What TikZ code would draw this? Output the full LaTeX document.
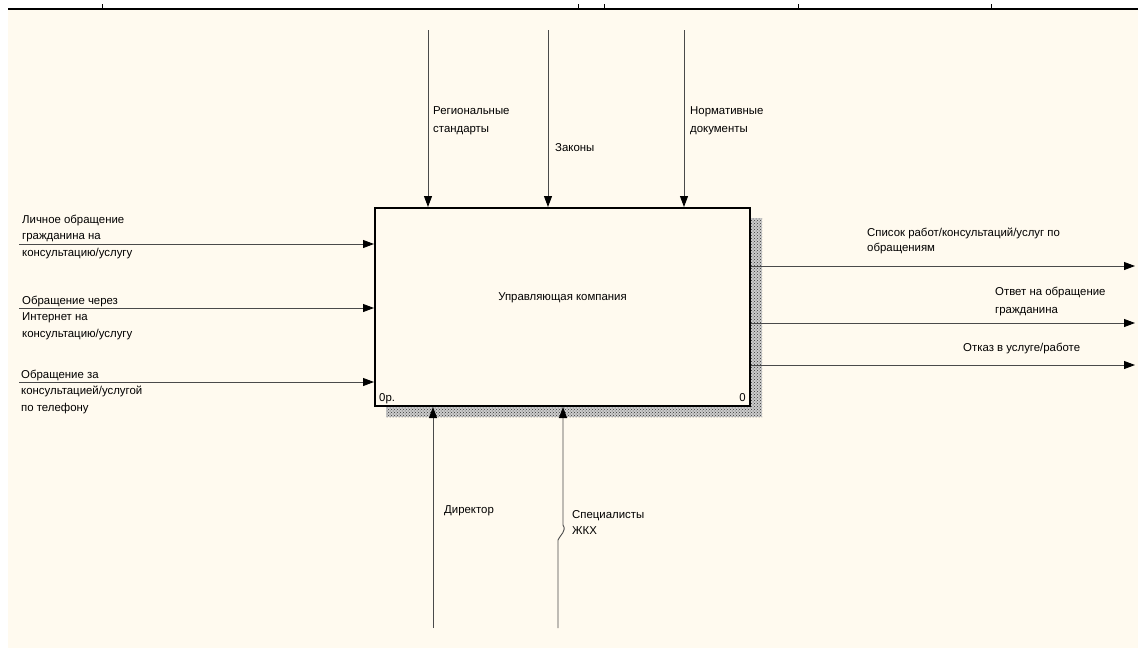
\documentclass[tikz,border=0pt]{standalone}
\usepackage{fontspec}
\setmainfont{Liberation Sans}
\usepackage{xcolor}
\definecolor{paper}{HTML}{FFFAEF}
\definecolor{wire}{HTML}{4A4A4A}
\usetikzlibrary{arrows.meta, patterns, calc}

\begin{document}
\begin{tikzpicture}[x=1pt, y=-1pt,
  >={Triangle[length=11pt, width=8pt, color=black]},
  flow/.style={->, draw=wire, line width=0.9pt},
  lbl/.style={font=\fontsize{11.4}{16.5}\selectfont, align=left, inner sep=0pt, anchor=base west}]

  \useasboundingbox (0,0) rectangle (1138,648);
  \fill[white] (0,0) rectangle (1138,648);
  \fill[paper] (8,9) rectangle (1138,648);
  \draw[line width=1.5pt] (8,9) -- (1138,9);
  \foreach \tx in {102,578,604,798,991}
    \draw[line width=0.7pt] (\tx,9) -- (\tx,4);

  % shadow and main box
  \fill[black!20] (386,218) rectangle (762,417);
  \fill[pattern=crosshatch dots, pattern color=black!80] (386,218) rectangle (762,417);
  \node[draw, line width=2pt, fill=paper, minimum width=375pt, minimum height=198pt,
        inner sep=0pt] (uk) at (562.5,307) {};
  \node[font=\fontsize{11.4}{13}\selectfont] (ukname) at ([yshift=9pt]uk.center)
        {Управляющая компания};
  \node[lbl] (ukref) at ([xshift=5pt, yshift=6pt]uk.south west) {0р.};
  \node[lbl, anchor=base east] (uknum) at ([xshift=-5pt, yshift=6pt]uk.south east) {0};

  % inputs
  \coordinate (in1) at (19,244);
  \coordinate (in2) at (19,308);
  \coordinate (in3) at (19,382);
  \draw[flow] (in1) -- (in1 -| uk.west);
  \draw[flow] (in2) -- (in2 -| uk.west);
  \draw[flow] (in3) -- (in3 -| uk.west);
  \node[lbl] (in1txt) at (22,256) {Личное обращение\\гражданина на\\консультацию/услугу};
  \node[lbl] (in2txt) at (22,337) {Обращение через\\Интернет на\\консультацию/услугу};
  \node[lbl] (in3txt) at (21,411) {Обращение за\\консультацией/услугой\\по телефону};

  % controls
  \coordinate (ctl1) at (428,30);
  \coordinate (ctl2) at (548,30);
  \coordinate (ctl3) at (684,30);
  \draw[flow] (ctl1) -- (ctl1 |- uk.north);
  \draw[flow] (ctl2) -- (ctl2 |- uk.north);
  \draw[flow] (ctl3) -- (ctl3 |- uk.north);
  \node[lbl, font=\fontsize{11.4}{18}\selectfont] (ctl1txt) at (433,132) {Региональные\\стандарты};
  \node[lbl] (ctl2txt) at (555,151) {Законы};
  \node[lbl, font=\fontsize{11.4}{18}\selectfont] (ctl3txt) at (690,132) {Нормативные\\документы};

  % outputs
  \coordinate (out1) at (1135,266);
  \coordinate (out2) at (1135,323);
  \coordinate (out3) at (1135,365);
  \draw[flow] (out1 -| uk.east) -- (out1);
  \draw[flow] (out2 -| uk.east) -- (out2);
  \draw[flow] (out3 -| uk.east) -- (out3);
  \node[lbl, font=\fontsize{11.4}{15.5}\selectfont] (out1txt) at (867,251.5)
        {Список работ/консультаций/услуг по\\обращениям};
  \node[lbl, font=\fontsize{11.4}{18}\selectfont] (out2txt) at (995,313)
        {Ответ на обращение\\гражданина};
  \node[lbl] (out3txt) at (963,351) {Отказ в услуге/работе};

  % mechanisms
  \coordinate (mech1) at (433,628);
  \coordinate (mech2) at (558,628);
  \draw[flow] (mech1) -- (mech1 |- uk.south);
  \draw[flow] (mech2) -- (558,540) .. controls (560,535) and (567,531) .. (563,525)
        -- (563,0 |- uk.south);
  \node[lbl] (mech1txt) at (444,513) {Директор};
  \node[lbl, font=\fontsize{11.4}{16}\selectfont] (mech2txt) at (572,534) {Специалисты\\ЖКХ};

\end{tikzpicture}
\end{document}
